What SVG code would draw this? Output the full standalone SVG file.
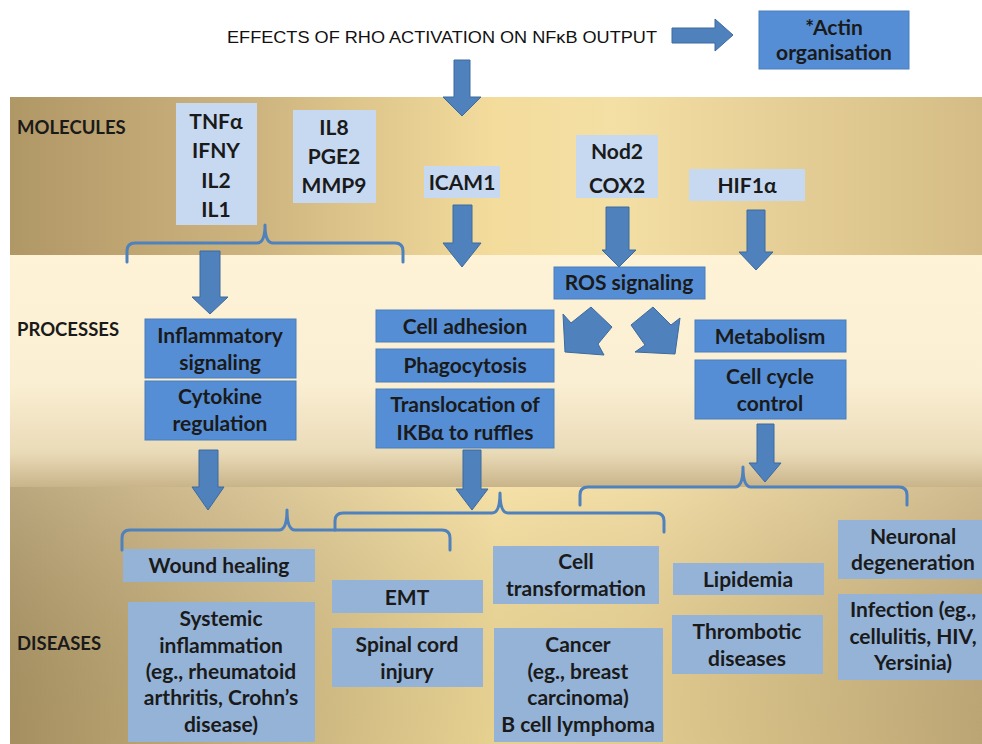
<svg xmlns="http://www.w3.org/2000/svg" width="982" height="744" viewBox="0 0 982 744">
<defs>
<linearGradient id="gTop" x1="0" y1="0" x2="1" y2="0">
<stop offset="0" stop-color="#B09766"/>
<stop offset="0.25" stop-color="#CDB47F"/>
<stop offset="0.5" stop-color="#F3DC9C"/>
<stop offset="0.62" stop-color="#F4DFA4"/>
<stop offset="1" stop-color="#D5BC86"/>
</linearGradient>
<linearGradient id="gMidV" x1="0" y1="0" x2="0" y2="1">
<stop offset="0" stop-color="#FEF3D6"/>
<stop offset="0.55" stop-color="#FBEFD3"/>
<stop offset="0.85" stop-color="#EADBB8"/>
<stop offset="1" stop-color="#C9B48A"/>
</linearGradient>
<linearGradient id="gBot" x1="0" y1="0" x2="1" y2="0">
<stop offset="0" stop-color="#AE9766"/>
<stop offset="0.25" stop-color="#D0B983"/>
<stop offset="0.5" stop-color="#F3DC98"/>
<stop offset="0.65" stop-color="#EDD595"/>
<stop offset="1" stop-color="#C6AE7B"/>
</linearGradient>
<linearGradient id="gBotV" x1="0" y1="0" x2="0" y2="1">
<stop offset="0" stop-color="#FFFFFF" stop-opacity="0.15"/>
<stop offset="1" stop-color="#000000" stop-opacity="0.05"/>
</linearGradient>
</defs>
<style>
.lbl{font-family:"Lato","Open Sans",sans-serif;font-weight:bold;font-size:21px;fill:#1a1a1a;text-anchor:middle}
.band{font-family:"Lato","Open Sans",sans-serif;font-weight:bold;font-size:18.5px;fill:#1a1a1a}
.mol{fill:#C6D9F1}
.proc{fill:#558ED5;stroke:#4A7EBB;stroke-width:1}
.dis{fill:#95B3D7}
.arr{fill:#4F81BD;stroke:#3D6A9E;stroke-width:1}
.brace{fill:none;stroke:#4F81BD;stroke-width:3;stroke-linejoin:round;stroke-linecap:round}
</style>
<rect width="982" height="744" fill="#FFFFFF"/>
<g id="background">
<rect x="10" y="97" width="972" height="158" fill="url(#gTop)"/>
<rect x="10" y="255" width="972" height="232" fill="url(#gMidV)"/>
<rect x="10" y="487" width="972" height="257" fill="url(#gBot)"/>
<rect x="10" y="487" width="972" height="257" fill="url(#gBotV)"/>
<text class="band" x="17" y="134">MOLECULES</text>
<text class="band" x="17" y="336">PROCESSES</text>
<text class="band" x="17" y="650">DISEASES</text>
</g>
<g id="title">
<text x="227" y="43" font-family="Liberation Sans, Arial, sans-serif" font-size="17" fill="#111" textLength="430" lengthAdjust="spacingAndGlyphs">EFFECTS OF RHO ACTIVATION ON NFκB OUTPUT</text>
</g>
<g id="actin">
<rect x="759" y="11" width="150" height="58" class="proc"/>
<text class="lbl" x="834" y="35">*Actin</text>
<text class="lbl" x="834" y="60">organisation</text>
</g>
<g id="tnf">
<rect x="176" y="103" width="81" height="122" class="mol"/>
<text class="lbl" x="216" y="129">TNFα</text>
<text class="lbl" x="216" y="158">IFNY</text>
<text class="lbl" x="216" y="188">IL2</text>
<text class="lbl" x="216" y="217">IL1</text>
</g>
<g id="il8">
<rect x="293" y="110" width="83" height="93" class="mol"/>
<text class="lbl" x="334" y="135">IL8</text>
<text class="lbl" x="334" y="164">PGE2</text>
<text class="lbl" x="334" y="193">MMP9</text>
</g>
<g id="icam1">
<rect x="424" y="166" width="76" height="32" class="mol"/>
<text class="lbl" x="462" y="190">ICAM1</text>
</g>
<g id="nod2">
<rect x="576" y="135" width="82" height="63" class="mol"/>
<text class="lbl" x="617" y="159">Nod2</text>
<text class="lbl" x="617" y="193">COX2</text>
</g>
<g id="hif">
<rect x="689" y="169" width="116" height="32" class="mol"/>
<text class="lbl" x="747" y="193">HIF1α</text>
</g>
<g id="inflam">
<rect x="145" y="319" width="151" height="59" class="proc"/>
<text class="lbl" x="220" y="343">Inflammatory</text>
<text class="lbl" x="220" y="370">signaling</text>
</g>
<g id="cytokine">
<rect x="145" y="381" width="151" height="59" class="proc"/>
<text class="lbl" x="220" y="404">Cytokine</text>
<text class="lbl" x="220" y="431">regulation</text>
</g>
<g id="adhesion">
<rect x="376" y="310" width="178" height="32" class="proc"/>
<text class="lbl" x="465" y="334">Cell adhesion</text>
</g>
<g id="phago">
<rect x="376" y="349" width="178" height="33" class="proc"/>
<text class="lbl" x="465" y="373">Phagocytosis</text>
</g>
<g id="transloc">
<rect x="376" y="389" width="178" height="59" class="proc"/>
<text class="lbl" x="465" y="412">Translocation of</text>
<text class="lbl" x="465" y="440">IKBα to ruffles</text>
</g>
<g id="ros">
<rect x="554" y="267" width="151" height="32" class="proc"/>
<text class="lbl" x="629" y="290">ROS signaling</text>
</g>
<g id="metab">
<rect x="695" y="320" width="151" height="32" class="proc"/>
<text class="lbl" x="770" y="344">Metabolism</text>
</g>
<g id="cellcycle">
<rect x="695" y="360" width="151" height="59" class="proc"/>
<text class="lbl" x="770" y="384">Cell cycle</text>
<text class="lbl" x="770" y="411">control</text>
</g>
<g id="wound">
<rect x="123" y="549" width="192" height="33" class="dis"/>
<text class="lbl" x="219" y="573">Wound healing</text>
</g>
<g id="systemic">
<rect x="128" y="602" width="187" height="140" class="dis"/>
<text class="lbl" x="221" y="626">Systemic</text>
<text class="lbl" x="221" y="653">inflammation</text>
<text class="lbl" x="221" y="679">(eg., rheumatoid</text>
<text class="lbl" x="221" y="705">arthritis, Crohn’s</text>
<text class="lbl" x="221" y="732">disease)</text>
</g>
<g id="emt">
<rect x="332" y="580" width="151" height="33" class="dis"/>
<text class="lbl" x="407" y="605">EMT</text>
</g>
<g id="spinal">
<rect x="332" y="628" width="151" height="59" class="dis"/>
<text class="lbl" x="407" y="652">Spinal cord</text>
<text class="lbl" x="407" y="679">injury</text>
</g>
<g id="celltrans">
<rect x="493" y="546" width="166" height="58" class="dis"/>
<text class="lbl" x="576" y="569">Cell</text>
<text class="lbl" x="576" y="596">transformation</text>
</g>
<g id="cancer">
<rect x="494" y="628" width="169" height="114" class="dis"/>
<text class="lbl" x="578" y="652">Cancer</text>
<text class="lbl" x="578" y="679">(eg., breast</text>
<text class="lbl" x="578" y="705">carcinoma)</text>
<text class="lbl" x="578" y="732">B cell lymphoma</text>
</g>
<g id="lipid">
<rect x="673" y="563" width="151" height="32" class="dis"/>
<text class="lbl" x="748" y="587">Lipidemia</text>
</g>
<g id="thromb">
<rect x="672" y="615" width="151" height="59" class="dis"/>
<text class="lbl" x="747" y="639">Thrombotic</text>
<text class="lbl" x="747" y="666">diseases</text>
</g>
<g id="neuronal">
<rect x="838" y="520" width="144" height="59" class="dis"/>
<text class="lbl" x="913" y="544">Neuronal</text>
<text class="lbl" x="913" y="570">degeneration</text>
</g>
<g id="infection">
<rect x="838" y="594" width="144" height="86" class="dis"/>
<text class="lbl" x="913" y="617">Infection (eg.,</text>
<text class="lbl" x="913" y="644">cellulitis, HIV,</text>
<text class="lbl" x="913" y="670">Yersinia)</text>
</g>
<g id="connectors">
<polygon class="arr" points="672,28 715,28 715,19 733,35 715,51 715,43 672,43"/>
<polygon class="arr" points="454,60 470,60 470,97 481,97 462,116 443,97 454,97"/>
<polygon class="arr" points="453,205 472,205 472,243 481,243 462,267 443,243 453,243"/>
<polygon class="arr" points="606,207 629,207 629,250 636,250 619,267 602,250 606,250"/>
<polygon class="arr" points="747,210 765,210 765,252 773,252 756,270 739,252 747,252"/>
<polygon class="arr" points="200,251 220,251 220,297 228,297 210,314 192,297 200,297"/>
<polygon class="arr" points="199,450 218,450 218,487 224,487 208,510 192,487 199,487"/>
<polygon class="arr" points="463,450 481,450 481,489 488,489 472,510 456,489 463,489"/>
<polygon class="arr" points="757,424 774,424 774,463 781,463 765,482 749,463 757,463"/>
<polygon class="arr" points="563,314 571,323 591,307 612,327 598,344 604,355 565,352"/>
<polygon class="arr" points="675,354 680,318 671,325 653,307 631,325 645,345 635,352"/>
<path class="brace" d="M127,262 L127,251 Q127,243 135,243 L257,243 Q265,243 265,225 Q265,243 273,243 L395,243 Q403,243 403,251 L403,262"/>
<path class="brace" d="M122,550 V538 Q122,530 130,530 H279 Q287,530 287,510 Q287,530 295,530 H442 Q450,530 450,538 V550"/>
<path class="brace" d="M335,530 V521 Q335,513 343,513 H492 Q500,513 500,493 Q500,513 508,513 H656 Q664,513 664,521 V532"/>
<path class="brace" d="M580,505 V495 Q580,487 588,487 H735 Q743,487 743,467 Q743,487 751,487 H899 Q907,487 907,495 V505"/>
</g>
</svg>
